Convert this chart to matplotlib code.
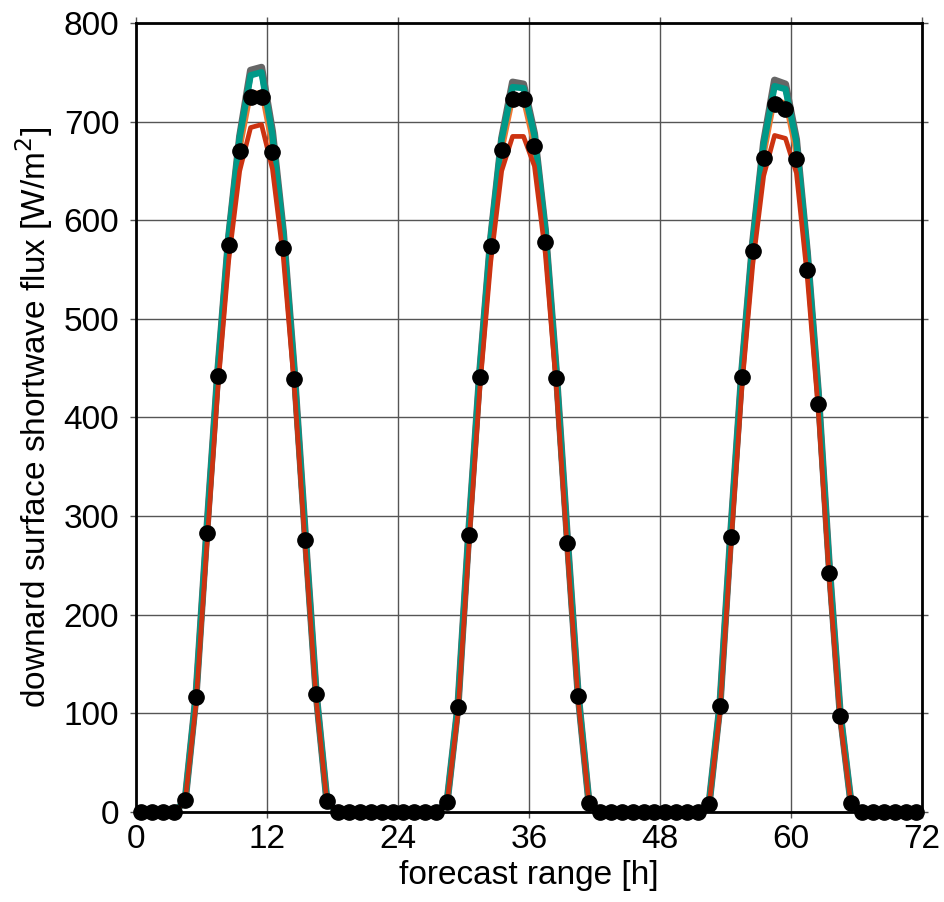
import matplotlib
matplotlib.use('Agg')
import matplotlib.pyplot as plt

# hourly means, centred on the half hour
hours = [h + 0.5 for h in range(72)]

night_a = [0, 0, 0, 0]
night_b = [0, 0, 0, 0, 0, 0, 0, 0, 0, 0]
night_c = [0, 0, 0, 0, 0, 0]

obs = (night_a
       + [12, 117, 283, 442, 575, 670, 725, 725, 669, 572, 439, 276, 120, 11]
       + night_b
       + [10, 106, 281, 441, 574, 671, 723, 723, 675, 578, 440, 273, 118, 9]
       + night_b
       + [8, 107, 279, 441, 569, 663, 718, 713, 662, 550, 414, 242, 97, 9]
       + night_c)

run_grey = (night_a
            + [11, 118, 287, 447, 584, 685, 752, 755, 690, 588, 447, 282, 121, 10]
            + night_b
            + [10, 108, 286, 447, 582, 683, 740, 738, 688, 590, 447, 280, 120, 9]
            + night_b
            + [8, 109, 285, 447, 578, 679, 742, 738, 682, 567, 426, 251, 101, 9]
            + night_c)

run_teal = (night_a
            + [11, 118, 287, 447, 584, 684, 747, 750, 686, 586, 446, 281, 121, 10]
            + night_b
            + [10, 108, 286, 447, 582, 682, 735, 734, 686, 589, 446, 279, 120, 9]
            + night_b
            + [8, 109, 285, 447, 577, 677, 736, 733, 679, 566, 425, 250, 101, 9]
            + night_c)

run_orange = (night_a
              + [11, 114, 280, 440, 574, 670, 728, 730, 672, 574, 440, 276, 118, 10]
              + night_b
              + [10, 105, 279, 440, 573, 669, 722, 721, 673, 577, 440, 274, 117, 9]
              + night_b
              + [8, 106, 278, 440, 568, 664, 722, 719, 666, 553, 418, 245, 98, 9]
              + night_c)

run_red = (night_a
           + [10, 110, 272, 430, 560, 650, 694, 697, 652, 562, 432, 270, 115, 9]
           + night_b
           + [9, 101, 271, 430, 558, 650, 685, 685, 655, 566, 432, 268, 114, 8]
           + night_b
           + [7, 102, 270, 430, 555, 645, 686, 683, 648, 542, 408, 238, 94, 8]
           + night_c)

plt.rcParams['font.family'] = ['Liberation Sans', 'DejaVu Sans']

fig = plt.figure(figsize=(9.45, 9.02), dpi=100)
ax = fig.add_axes([0.1439, 0.0998, 0.8317, 0.8747])

ax.plot(hours, run_grey, color='#666666', lw=5.2, zorder=2)
ax.plot(hours, run_orange, color='#ee7733', lw=3.4, zorder=3)
ax.plot(hours, run_teal, color='#009988', lw=4.6, zorder=4)
ax.plot(hours, run_red, color='#cc3311', lw=3.4, zorder=5)
ax.plot(hours, obs, 'o', color='black', ms=11, zorder=6, clip_on=False)

ax.set_xlim(0, 72)
ax.set_ylim(0, 800)
ax.set_xticks(range(0, 73, 12))
ax.set_yticks(range(0, 801, 100))

ax.grid(True, color='#555555', lw=1.0)
ax.set_axisbelow(True)
for side in ax.spines.values():
    side.set_linewidth(2.0)
    side.set_color('black')
    side.set_zorder(7)

ax.tick_params(direction='out', length=4, width=1.0, color='#555555',
               labelsize=24, top=True, right=True)
ax.tick_params(axis='y', pad=8)
ax.tick_params(axis='x', pad=5)

ax.set_xlabel('forecast range [h]', fontsize=24, labelpad=3)
ax.set_ylabel('downard surface shortwave flux [W/m$^2$]', fontsize=24, labelpad=6)

fig.savefig('out.png', dpi=100)
